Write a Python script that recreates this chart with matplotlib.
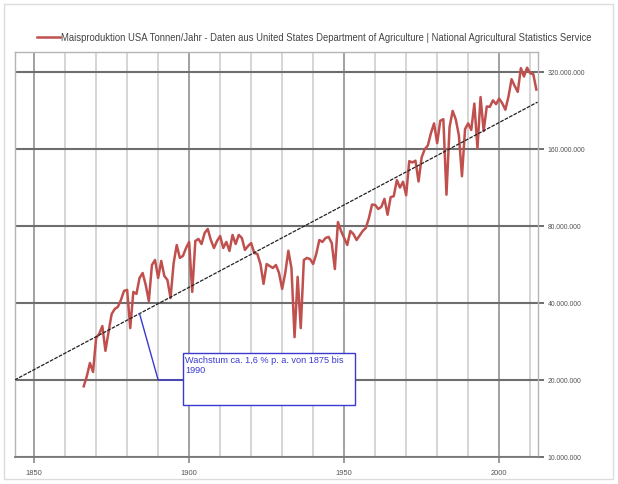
import matplotlib
matplotlib.use("Agg")
import matplotlib.pyplot as plt
from matplotlib.patches import Rectangle
from matplotlib.lines import Line2D
from matplotlib.ticker import NullLocator, FixedLocator
import numpy as np

plt.rcParams['font.family'] = ['Liberation Sans', 'DejaVu Sans']

# ---------------- data ----------------
years = list(range(1866, 2013))
production_mt = [
    # 1866-1875
    18.9, 20.7, 23.3, 21.5, 29.2, 30.3, 32.5, 26.0, 30.8, 36.2,
    # 1876-1885
    37.9, 38.6, 41.1, 44.6, 45.0, 31.9, 44.2, 43.4, 50.1, 52.4,
    # 1886-1895
    47.0, 40.7, 56.3, 58.9, 50.1, 58.4, 51.0, 49.2, 41.8, 57.3,
    # 1896-1905
    67.4, 60.0, 61.1, 65.6, 69.3, 44.2, 69.9, 71.2, 68.0, 75.1,
    # 1906-1915
    77.9, 70.5, 65.6, 69.9, 73.1, 65.6, 69.3, 63.9, 73.8, 68.0,
    # 1916-1925
    73.8, 71.8, 64.5, 66.8, 68.6, 62.7, 62.2, 56.8, 47.5, 56.8,
    # 1926-1935
    55.8, 54.8, 56.3, 52.4, 45.4, 52.4, 64.0, 54.8, 29.4, 50.6,
    # 1936-1945
    31.9, 58.9, 60.0, 59.4, 56.8, 62.2, 70.5, 69.3, 71.8, 72.5,
    # 1946-1955
    68.6, 54.3, 82.9, 76.5, 71.8, 67.4, 76.5, 74.4, 70.5, 73.5,
    # 1956-1965
    76.5, 78.6, 86.0, 97.0, 96.7, 93.2, 95.0, 102.1, 88.5, 103.7,
    # 1966-1975
    104.6, 120.9, 113.0, 119.1, 105.5, 143.4, 141.7, 144.0, 119.4, 148.4,
    # 1976-1985
    159.7, 165.2, 184.6, 201.4, 168.6, 206.2, 209.2, 106.0, 194.9, 225.4,
    # 1986-1995
    208.9, 181.1, 125.2, 191.3, 201.5, 189.9, 240.7, 160.9, 255.3, 188.0,
    # 1996-2005
    234.5, 233.9, 247.9, 239.5, 251.8, 241.4, 227.8, 256.2, 299.9, 282.2,
    # 2006-2012
    267.5, 331.2, 307.1, 332.5, 316.2, 313.9, 273.2,
]

trend_years = [1843.7, 2012.4]
trend_mt = [20.0, 244.0]

ytick_values_mt = [10, 20, 40, 80, 160, 320]
ytick_labels = ["10.000.000", "20.000.000", "40.000.000", "80.000.000",
                "160.000.000", "320.000.000"]
xtick_major = [1850, 1900, 1950, 2000]
xtick_minor = list(range(1860, 2011, 10))

legend_label = ("Maisproduktion USA Tonnen/Jahr - Daten aus United States "
                "Department of Agriculture | National Agricultural Statistics Service")
annotation_text = "Wachstum ca. 1,6 % p. a. von 1875 bis\n1990"

# ---------------- figure ----------------
W, H = 618, 485
fig = plt.figure(figsize=(W / 100, H / 100), dpi=100)
fig.patch.set_facecolor('white')

ax = fig.add_axes([14.6 / W, 27 / H, 523 / W, 405 / H])
ax.set_facecolor('white')
ax.set_yscale('log')
ax.set_xlim(1843.7, 2012.4)
ax.set_ylim(10e6, 383e6)

# grid
ax.xaxis.set_major_locator(FixedLocator(xtick_major))
ax.xaxis.set_minor_locator(FixedLocator(xtick_minor))
ax.set_xticklabels([str(v) for v in xtick_major])
ax.yaxis.set_major_locator(FixedLocator([v * 1e6 for v in ytick_values_mt]))
ax.yaxis.set_minor_locator(NullLocator())
ax.set_yticklabels(ytick_labels)
ax.yaxis.tick_right()

ax.grid(which='minor', axis='x', color='#d2d2d2', lw=1.3, zorder=0)
ax.grid(which='major', axis='x', color='#9a9a9a', lw=1.3, zorder=0)
ax.grid(which='major', axis='y', color='#6e6e6e', lw=1.5, zorder=0)
ax.set_axisbelow(True)

ax.tick_params(axis='x', which='major', length=4, width=1.2, color='#8a8a8a',
               labelsize=5.4, labelcolor='#555555', pad=5)
ax.tick_params(axis='x', which='minor', length=0)
ax.tick_params(axis='y', which='major', length=4, width=1.4, color='#6e6e6e',
               labelsize=4.9, labelcolor='#555555', pad=3)

for side in ['left', 'top', 'right']:
    ax.spines[side].set_color('#b5b5b5')
    ax.spines[side].set_linewidth(1.0)
ax.spines['bottom'].set_color('#7a7a7a')
ax.spines['bottom'].set_linewidth(1.3)

# data
prod = np.array(production_mt) * 1e6
ax.plot(years, prod, color='#c0504d', lw=1.8, zorder=3, solid_joinstyle='round')

# trend line
trend = np.array(trend_mt) * 1e6
ax.plot(trend_years, trend, color='#222222', lw=0.9, ls=(0, (3, 1)), zorder=4)

# annotation connector & box
def trend_at(yr):
    lt = np.interp(yr, trend_years, np.log(trend))
    return float(np.exp(lt))

blue = '#3a3ad0'
box_x0, box_x1 = 1898.1, 1953.6
box_y0, box_y1 = 16.0e6, 25.5e6
ax.plot([box_x0, 1890.0, 1884.0], [20e6, 20e6, trend_at(1884.0)],
        color=blue, lw=1.0, zorder=5)
ax.add_patch(Rectangle((box_x0, box_y0), box_x1 - box_x0, box_y1 - box_y0,
                       facecolor='white', edgecolor=blue, lw=1.0, zorder=6))
ax.text(box_x0 + 0.6, box_y1 * 0.985, annotation_text, color=blue, fontsize=6.6,
        va='top', ha='left', zorder=7, linespacing=1.2)

# legend (above the axes)
ly = 1 - 38 / H
fig.add_artist(Line2D([37 / W, 60 / W], [ly, ly], transform=fig.transFigure,
                      color='#c0504d', lw=1.8))
fig.text(61 / W, ly, legend_label, fontsize=6.85, color='#444444',
         va='center', ha='left')

# outer frame
fig.add_artist(Rectangle((4 / W, 5 / H), (613 - 4) / W, (480 - 5) / H,
                         transform=fig.transFigure, fill=False,
                         edgecolor='#dcdcdc', lw=1.0))

fig.savefig('out.png', dpi=100)
